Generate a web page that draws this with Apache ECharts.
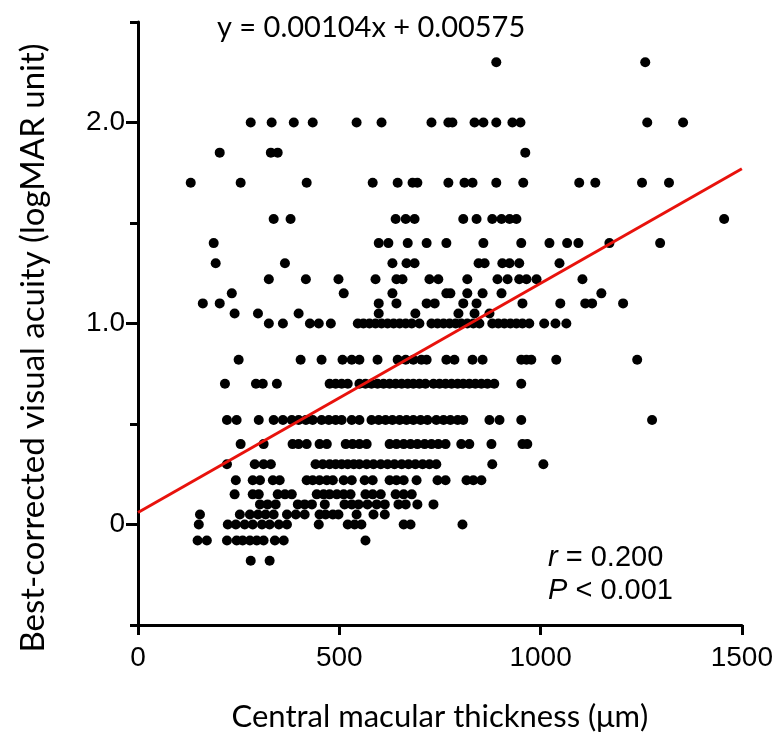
<!DOCTYPE html>
<html>
<head>
<meta charset="utf-8">
<script src="https://cdn.jsdelivr.net/npm/echarts@6/dist/echarts.min.js"></script>
<style>
  html, body { margin: 0; padding: 0; background: #fff; }
  #chart { width: 776px; height: 737px; }
</style>
</head>
<body>
<div id="chart"></div>
<script>
// BCVA levels (logMAR) and the CMT values (um) read at each level
const acuityLevels = [2.3, 2.0, 1.85, 1.7, 1.52, 1.4, 1.3, 1.22, 1.15, 1.1, 1.05, 1.0,
  0.82, 0.7, 0.52, 0.4, 0.3, 0.22, 0.15, 0.1, 0.05, 0, -0.08, -0.18];
const thicknessAtLevel = [
  [890, 1260],
  [280, 332, 387, 434, 543, 605, 729, 771, 781, 836, 858, 890, 930, 950, 1265, 1354],
  [203, 330, 347, 962],
  [131, 255, 419, 583, 645, 682, 694, 771, 811, 831, 890, 957, 1096, 1136, 1252, 1319],
  [337, 379, 640, 665, 687, 808, 841, 880, 903, 923, 940, 1456],
  [188, 598, 622, 670, 717, 766, 858, 952, 1022, 1066, 1094, 1171, 1297],
  [193, 365, 632, 667, 687, 846, 861, 905, 923, 947, 1047],
  [325, 417, 498, 590, 642, 657, 724, 746, 818, 893, 918, 947, 965, 990, 1104],
  [233, 511, 632, 766, 776, 818, 856, 903, 1151],
  [161, 203, 598, 642, 717, 737, 808, 841, 955, 1049, 1111, 1128, 1205],
  [240, 298, 399, 598, 689, 796, 836, 873],
  [325, 360, 427, 449, 479, 546, 560, 575, 590, 605, 620, 635, 650, 665, 680, 699, 729, 744,
    759, 774, 789, 803, 818, 833, 848, 880, 895, 910, 925, 940, 955, 972, 1009, 1037, 1064],
  [250, 404, 456, 508, 531, 550, 595, 645, 665, 684, 704, 717, 766, 786, 831, 856, 952, 965,
    977, 1039, 1240],
  [216, 293, 310, 345, 476, 491, 506, 521, 550, 565, 580, 595, 610, 625, 640, 655, 670, 684,
    699, 714, 734, 749, 764, 779, 794, 808, 823, 838, 853, 868, 885, 952],
  [221, 245, 300, 337, 360, 382, 399, 417, 434, 456, 474, 491, 506, 531, 550, 580, 598, 615,
    632, 650, 667, 684, 702, 719, 741, 759, 776, 794, 808, 873, 898, 952, 1277],
  [255, 312, 384, 399, 419, 451, 469, 516, 533, 550, 568, 625, 642, 660, 677, 694, 712, 729,
    746, 764, 803, 823, 878, 955, 967],
  [221, 290, 312, 330, 441, 459, 476, 491, 506, 521, 536, 550, 568, 585, 603, 620, 637, 655,
    672, 689, 707, 724, 741, 880, 1007],
  [243, 285, 303, 335, 352, 419, 434, 451, 469, 484, 511, 531, 563, 583, 625, 642, 660, 692,
    744, 764, 816, 833, 853],
  [240, 285, 300, 347, 365, 382, 444, 461, 476, 494, 511, 528, 565, 583, 603, 640, 660, 680],
  [303, 322, 342, 397, 414, 432, 464, 513, 531, 548, 570, 593, 613, 647, 665, 694, 734],
  [154, 253, 278, 298, 317, 337, 370, 392, 414, 451, 466, 484, 498, 543, 585, 613],
  [151, 223, 243, 265, 285, 308, 327, 350, 370, 449, 521, 538, 555, 660, 677, 806],
  [148, 171, 221, 245, 260, 278, 295, 312, 340, 362, 565],
  [280, 327]
];

// regression line as drawn in the figure
const fitLine = [[0, 0.06], [1500, 1.77]];

const xTicks = [0, 500, 1000, 1500];
const yLabelTicks = [0, 1, 2];
const yMinorTicks = [-0.5, 0.5, 1.5, 2.5];

const points = [];
acuityLevels.forEach((lv, i) => {
  thicknessAtLevel[i].forEach((x) => points.push([x, lv]));
});

const chart = echarts.init(document.getElementById("chart"), null, { renderer: "canvas" });

const option = {
  animation: false,
  grid: { left: 138, right: 33, top: 22, bottom: 110, containLabel: false },
  xAxis: {
    type: "value",
    min: 0,
    max: 1500,
    interval: 500,
    name: "Central macular thickness (\u03bcm)",
    nameLocation: "middle",
    nameGap: 76,
    nameTextStyle: { fontFamily: "Lato", fontSize: 31, color: "#000" },
    axisLine: { show: true, onZero: false, lineStyle: { color: "#000", width: 3 } },
    axisTick: { show: true, length: 10, lineStyle: { color: "#000", width: 3 }, customValues: xTicks },
    axisLabel: {
      margin: 19, fontFamily: "Liberation Sans", fontSize: 28, color: "#000",
      customValues: xTicks,
      formatter: (v) => String(v)
    },
    splitLine: { show: false }
  },
  yAxis: [
    {
      type: "value",
      min: -0.5,
      max: 2.5,
      interval: 0.5,
      axisLine: { show: true, onZero: false, lineStyle: { color: "#000", width: 3 } },
      axisTick: { show: true, length: 12, lineStyle: { color: "#000", width: 3 }, customValues: yLabelTicks },
      axisLabel: {
        margin: 13, fontFamily: "Liberation Sans", fontSize: 28, color: "#000",
        customValues: yLabelTicks,
        formatter: (v) => (v === 0 ? "0" : v.toFixed(1))
      },
      splitLine: { show: false }
    },
    {
      type: "value",
      min: -0.5,
      max: 2.5,
      interval: 0.5,
      position: "left",
      axisLine: { show: false, onZero: false },
      axisTick: { show: true, length: 8, lineStyle: { color: "#000", width: 3 }, customValues: yMinorTicks },
      axisLabel: { show: false },
      splitLine: { show: false }
    }
  ],
  series: [
    {
      type: "scatter",
      data: points,
      symbol: "circle",
      symbolSize: 10,
      itemStyle: { color: "#000", opacity: 1 },
      z: 3
    },
    {
      type: "line",
      data: fitLine,
      symbol: "none",
      lineStyle: { color: "#e8120c", width: 3 },
      z: 4
    }
  ],
  graphic: [
    {
      type: "text",
      x: 33,
      y: 348,
      rotation: Math.PI / 2,
      style: {
        text: "Best-corrected visual acuity (logMAR unit)",
        fontFamily: "Lato", fontSize: 33, fill: "#000",
        align: "center", verticalAlign: "middle"
      }
    },
    {
      type: "text",
      left: 217,
      top: 13,
      style: { text: "y = 0.00104x + 0.00575", fontFamily: "Lato", fontSize: 29, fill: "#000" }
    },
    {
      type: "text",
      left: 548,
      top: 541,
      style: {
        text: "{i|r} = 0.200\n{i|P} < 0.001",
        fontFamily: "Liberation Sans",
        fontSize: 29,
        lineHeight: 33,
        fill: "#000",
        rich: {
          i: { fontFamily: "Liberation Sans", fontStyle: "italic", fontSize: 29, lineHeight: 33 }
        }
      }
    }
  ]
};

chart.setOption(option);
</script>
</body>
</html>
